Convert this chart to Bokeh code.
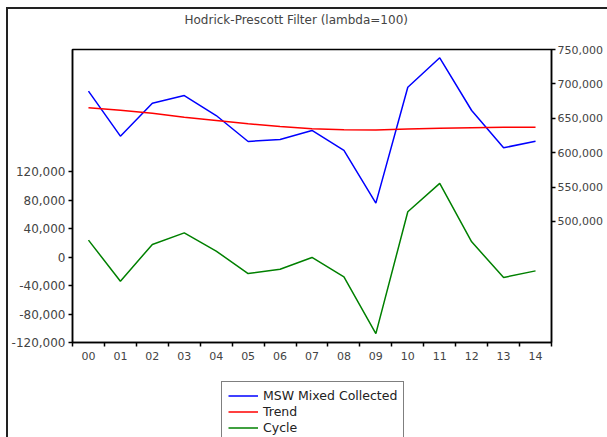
from bokeh.plotting import figure
from bokeh.layouts import column
from bokeh.models import (LinearAxis, Range1d, FixedTicker, NumeralTickFormatter,
                          Legend, LegendItem)
from bokeh.embed import file_html
from bokeh.resources import INLINE

# Annual series, 2000-2014
years = ["00", "01", "02", "03", "04", "05", "06", "07",
         "08", "09", "10", "11", "12", "13", "14"]
msw_collected = [689400, 624000, 672000, 683100, 654000, 616300, 619200, 632300,
                 603200, 526600, 695200, 737900, 661300, 607100, 616700]
trend = [665200, 661500, 657400, 651600, 646800, 642000, 638100, 634800,
         633300, 633000, 634500, 635500, 636300, 636800, 637000]
cycle = [23900, -33800, 17900, 34200, 8500, -23000, -16900, -400,
         -27700, -107500, 63800, 103800, 21600, -28600, -19300]

series_names = ["MSW Mixed Collected", "Trend", "Cycle"]
series_colors = ["#0000ff", "#ff0000", "#008000"]

left_ticks = [-120000, -80000, -40000, 0, 40000, 80000, 120000]
right_ticks = [500000, 550000, 600000, 650000, 700000, 750000]

FONT = "DejaVu Sans"
TXT = "#444444"

n = len(years)
xc = [i + 0.5 for i in range(n)]          # category centres
edges = list(range(n + 1))                # category boundaries


def blank_strip(height):
    f = figure(width=599, height=height, output_backend="svg", toolbar_location=None,
               x_axis_type=None, y_axis_type=None,
               x_range=Range1d(0, n), y_range=Range1d(2e6, 3e6),
               min_border_left=0, min_border_right=0, min_border_top=0,
               min_border_bottom=0)
    f.outline_line_color = None
    f.xgrid.visible = False
    f.ygrid.visible = False
    f.background_fill_color = "white"
    f.border_fill_color = "white"
    return f


# ---- title strip ----
head = blank_strip(32)
head.title.text = "Hodrick-Prescott Filter (lambda=100)"
head.title.align = "left"
head.title.vertical_align = "top"
head.title.offset = 112
head.title.standoff = 6
head.title.text_font = FONT
head.title.text_font_size = "12px"
head.title.text_font_style = "normal"
head.title.text_color = TXT

# ---- chart ----
p = figure(width=599, height=334, output_backend="svg", toolbar_location=None,
           x_range=Range1d(0, n), y_range=Range1d(-120000, 292000),
           min_border_left=64, min_border_right=56, min_border_top=8,
           min_border_bottom=33)
p.extra_y_ranges = {"right": Range1d(324000, 750000)}

p.xgrid.visible = False
p.ygrid.visible = False
p.outline_line_color = "black"
p.outline_line_width = 1.5
p.background_fill_color = "white"
p.border_fill_color = "white"

# bottom axis: labels centred, ticks on the boundaries
xa = p.xaxis[0]
xa.ticker = FixedTicker(ticks=xc, minor_ticks=edges)
xa.major_label_overrides = {c: y for c, y in zip(xc, years)}
xa.major_tick_out = 0
xa.major_tick_in = 0
xa.minor_tick_out = 4
xa.minor_tick_in = 0
xa.minor_tick_line_color = "black"
xa.minor_tick_line_width = 1.5

ya = p.yaxis[0]
ya.ticker = FixedTicker(ticks=left_ticks, minor_ticks=[])
ya.formatter = NumeralTickFormatter(format="0,0")
ya.major_tick_out = 4
ya.major_tick_in = 0

ra = LinearAxis(y_range_name="right",
                ticker=FixedTicker(ticks=right_ticks, minor_ticks=[]),
                formatter=NumeralTickFormatter(format="0,0"))
ra.major_tick_out = 4
ra.major_tick_in = 0
p.add_layout(ra, "right")

for ax in [xa, ya, ra]:
    ax.axis_line_color = "black"
    ax.axis_line_width = 1.5
    ax.major_tick_line_color = "black"
    ax.major_tick_line_width = 1.5
    ax.major_label_text_font = FONT
    ax.major_label_text_font_size = "12px"
    ax.major_label_text_color = TXT
xa.major_label_text_font_size = "11px"
xa.major_label_standoff = 5
ya.major_label_standoff = 3
ra.major_label_text_font_size = "11px"
ra.major_label_standoff = 2

p.line(xc, msw_collected, color=series_colors[0], line_width=1.5, y_range_name="right")
p.line(xc, trend, color=series_colors[1], line_width=1.5, y_range_name="right")
p.line(xc, cycle, color=series_colors[2], line_width=1.5)

# ---- legend strip under the chart ----
# the series are drawn again here, outside the visible y range, so the
# legend entries carry their line samples
lg = blank_strip(62)
items = []
for name, col, vals in zip(series_names, series_colors, [msw_collected, trend, cycle]):
    r = lg.line(xc, vals, color=col, line_width=1.5)
    items.append(LegendItem(label=name, renderers=[r]))

legend = Legend(items=items, location=(149, -5), orientation="vertical")
legend.label_text_font = FONT
legend.label_text_font_size = "12.5px"
legend.label_text_color = "#222222"
legend.glyph_width = 30
legend.glyph_height = 15
legend.label_height = 15
legend.label_standoff = 5
legend.spacing = 1
legend.padding = 6
legend.margin = 0
legend.border_line_color = "black"
legend.border_line_width = 1.5
legend.background_fill_alpha = 1.0
lg.add_layout(legend, "center")

# outer frame around the whole graph
page = column(head, p, lg, spacing=0, margin=(7, 0, 0, 6),
              styles={"border-left": "2px solid #222222",
                      "border-top": "2px solid #222222"})

open("out.html", "w").write(file_html(page, INLINE))
